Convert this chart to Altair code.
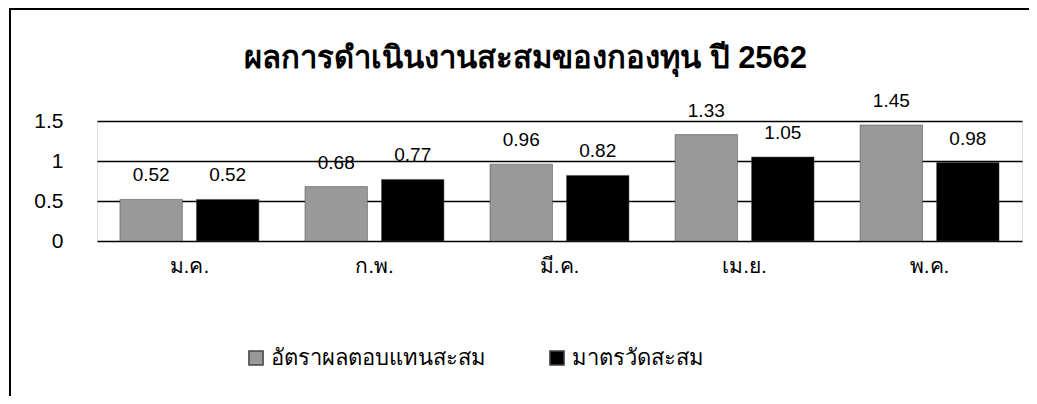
import altair as alt
import pandas as pd

months = ["ม.ค.", "ก.พ.", "มี.ค.", "เม.ย.", "พ.ค."]
series = ["อัตราผลตอบแทนสะสม", "มาตรวัดสะสม"]
returns = [0.52, 0.68, 0.96, 1.33, 1.45]
benchmark = [0.52, 0.77, 0.82, 1.05, 0.98]
y_ticks = [0, 0.5, 1, 1.5]
title_text = "ผลการดำเนินงานสะสมของกองทุน ปี 2562"

rows = []
for m, a, b in zip(months, returns, benchmark):
    rows.append({"month": m, "series": series[0], "value": a, "label": f"{a:.2f}"})
    rows.append({"month": m, "series": series[1], "value": b, "label": f"{b:.2f}"})
df = pd.DataFrame(rows)

FONT = "Liberation Sans"

x_enc = alt.X("month:N", sort=months, title=None,
              scale=alt.Scale(paddingInner=0.249, paddingOuter=0.124),
              axis=alt.Axis(labelAngle=0, labelFontSize=21, labelColor="#000",
                            labelPadding=14, ticks=False, domain=False, grid=False))
xo_enc = alt.XOffset("series:N", sort=series,
                     scale=alt.Scale(paddingInner=0.184, paddingOuter=0))
y_enc = alt.Y("value:Q", title=None,
              scale=alt.Scale(domain=[0, 1.5], nice=False, zero=True),
              axis=alt.Axis(values=y_ticks, labelFontSize=21, labelColor="#000",
                            labelPadding=34, ticks=False, domain=False,
                            grid=True, gridColor="#000", gridWidth=1.5,
                            gridOpacity=1, labelOverlap=False, format="~g"))

base = alt.Chart(df).encode(x=x_enc, xOffset=xo_enc, y=y_enc)

bars = base.mark_bar(stroke="#444", strokeWidth=0.5).encode(
    color=alt.Color("series:N", sort=series,
                    scale=alt.Scale(domain=series, range=["#999999", "#000000"]),
                    legend=alt.Legend(title=None, orient="none", direction="horizontal",
                                      legendX=148, legendY=226,
                                      symbolType="square", symbolSize=200,
                                      labelFontSize=22, labelColor="#000",
                                      labelLimit=500,
                                      columnPadding=60, symbolStrokeColor="#444",
                                      labelFont=FONT)),
)

labels = base.mark_text(fontSize=19, baseline="middle", dy=-24, color="#000",
                        font=FONT).encode(text="label:N")

frame_left = alt.Chart(df).mark_rule(color="#000", strokeWidth=2).encode(
    x=alt.value(-87), y=alt.value(-113), y2=alt.value(275))
frame_top = alt.Chart(df).mark_rule(color="#000", strokeWidth=2).encode(
    x=alt.value(-88), x2=alt.value(933), y=alt.value(-112))

chart = alt.layer(bars, labels, frame_left, frame_top).properties(
    width=925, height=120,
    title=alt.TitleParams(title_text, fontSize=31, fontWeight="bold",
                          font=FONT,
                          color="#000", anchor="middle", frame="group", dx=-34,
                          offset=-68),
    autosize=alt.AutoSizeParams(type="none"),
    padding={"left": 89, "top": 113, "right": 7, "bottom": 155},
).configure_view(stroke=None).configure(font=FONT).configure_axis(labelFont=FONT)

chart.save("out.html", embed_options={"renderer": "svg", "actions": False})
